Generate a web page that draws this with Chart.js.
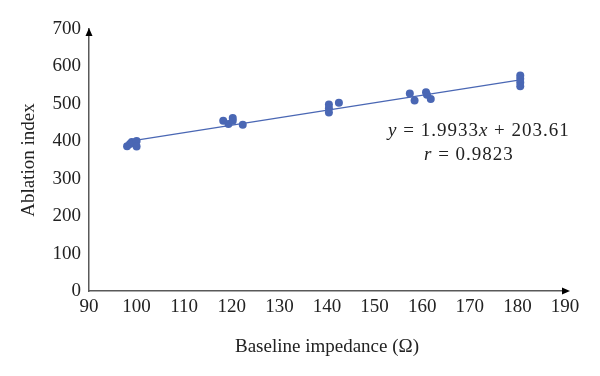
<!DOCTYPE html>
<html>
<head>
<meta charset="utf-8">
<script src="https://cdn.jsdelivr.net/npm/chart.js@4.4.1/dist/chart.umd.min.js"></script>
<style>
  html, body { margin: 0; padding: 0; background: #ffffff; }
  #wrap { width: 600px; height: 376px; position: relative; }
</style>
</head>
<body>
<div id="wrap"><canvas id="c"></canvas></div>
<script>
// Data
const impedance = [98, 98.6, 99, 100, 100, 118.2, 119.3, 120.2, 120.2, 122.3, 140.4, 140.4, 140.4, 142.5, 157.4, 158.4, 160.8, 161, 161.8, 180.6, 180.6, 180.6, 180.6];
const ablationIndex = [387, 393, 398, 401, 386, 455, 446, 462, 455, 444, 498, 488, 477, 503, 528, 509, 531, 524, 513, 576, 567, 557, 547];
const trendX = [98, 180.6];
const trendY = [399, 564];
const xTicks = [90, 100, 110, 120, 130, 140, 150, 160, 170, 180, 190];
const yTicks = [0, 100, 200, 300, 400, 500, 600, 700];
const equationText = "y = 1.9933x + 203.61";
const rText = "r = 0.9823";

const BLUE = '#4a67b4';
const AXIS = '#595959';
const TEXT = '#222222';
const FONT = "'Liberation Serif', 'DejaVu Serif', serif";

const annotations = {
  id: 'annotations',
  afterDraw(chart) {
    const ctx = chart.ctx;
    const area = chart.chartArea;
    ctx.save();
    // arrows
    ctx.fillStyle = '#000000';
    ctx.beginPath();
    ctx.moveTo(area.left, area.top - 1);
    ctx.lineTo(area.left - 3.5, area.top + 7);
    ctx.lineTo(area.left + 3.5, area.top + 7);
    ctx.closePath();
    ctx.fill();
    ctx.beginPath();
    ctx.moveTo(area.right + 5, area.bottom);
    ctx.lineTo(area.right - 3, area.bottom - 3.5);
    ctx.lineTo(area.right - 3, area.bottom + 3.5);
    ctx.closePath();
    ctx.fill();

    // equation text with italic variables
    ctx.fillStyle = TEXT;
    ctx.textBaseline = 'middle';
    ctx.textAlign = 'left';
    const spacing = 1;
    const drawRich = (parts, x, y) => {
      let cx = x;
      parts.forEach(p => {
        ctx.font = (p.i ? 'italic ' : '') + '19px ' + FONT;
        for (const ch of p.t) {
          ctx.fillText(ch, cx, y);
          cx += ctx.measureText(ch).width + spacing;
        }
      });
    };
    const eq = equationText;
    drawRich([{t: 'y', i: true}, {t: eq.slice(1, eq.indexOf('x'))}, {t: 'x', i: true}, {t: eq.slice(eq.indexOf('x') + 1)}], 388, 131);
    drawRich([{t: 'r', i: true}, {t: rText.slice(1)}], 424, 155);
    ctx.restore();
  }
};

new Chart(document.getElementById('c'), {
  type: 'scatter',
  data: {
    datasets: [
      {
        label: 'Points',
        data: impedance.map((x, i) => ({x: x, y: ablationIndex[i]})),
        backgroundColor: BLUE,
        borderColor: BLUE,
        pointRadius: 4,
        pointHoverRadius: 4,
        borderWidth: 0,
        order: 1
      },
      {
        label: 'Trend',
        type: 'line',
        data: trendX.map((x, i) => ({x: x, y: trendY[i]})),
        borderColor: BLUE,
        borderWidth: 1.4,
        pointRadius: 0,
        fill: false,
        order: 2
      }
    ]
  },
  plugins: [annotations],
  options: {
    responsive: true,
    maintainAspectRatio: false,
    animation: false,
    devicePixelRatio: 1,
    layout: { padding: { left: 0, right: 35, top: 29, bottom: 0 } },
    plugins: { legend: { display: false }, tooltip: { enabled: false } },
    scales: {
      x: {
        type: 'linear',
        min: 90, max: 190,
        afterBuildTicks(scale) { scale.ticks = xTicks.map(v => ({value: v})); },
        afterFit(scale) { scale.height = 85; },
        grid: { display: false, drawTicks: false },
        border: { display: true, color: AXIS, width: 1.5 },
        ticks: { color: TEXT, font: { family: FONT, size: 19 }, padding: 5, maxRotation: 0 },
        title: { display: true, text: 'Baseline impedance (Ω)', color: TEXT, font: { family: FONT, size: 19 }, padding: { top: 0, bottom: 18 } }
      },
      y: {
        type: 'linear',
        min: 0, max: 700,
        afterBuildTicks(scale) { scale.ticks = yTicks.map(v => ({value: v})); },
        afterFit(scale) { scale.width = 89; },
        grid: { display: false, drawTicks: false },
        border: { display: true, color: AXIS, width: 1.5 },
        ticks: { color: TEXT, font: { family: FONT, size: 19 }, padding: 8 },
        title: { display: true, text: 'Ablation index', color: TEXT, font: { family: FONT, size: 19 }, padding: { top: 18, bottom: 0 } }
      }
    }
  }
});
</script>
</body>
</html>
